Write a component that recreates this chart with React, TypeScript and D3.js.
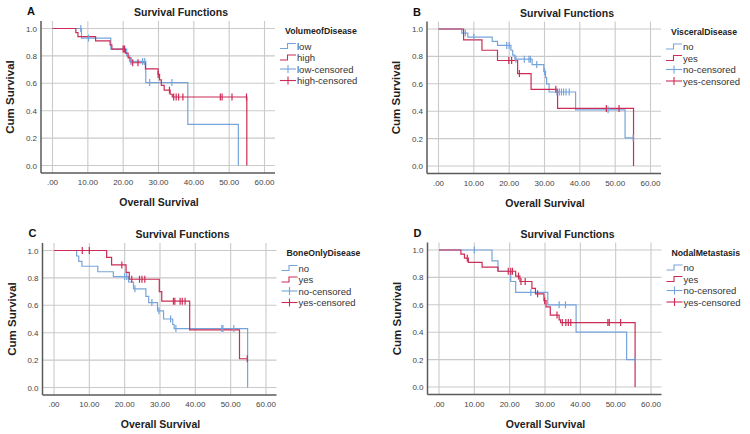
import React from "react";
import * as d3 from "d3";

// ---------- shared ticks ----------
const xTicks = [0, 10, 20, 30, 40, 50, 60];
const yTicks = [0, 0.2, 0.4, 0.6, 0.8, 1.0];

// ---------- Panel A : VolumeofDisease ----------
const aLowTimes = [8.2, 16.5, 21.0, 21.8, 26.4, 38.3, 52.6];
const aLowSurv = [0.93, 0.85, 0.8, 0.76, 0.605, 0.3, 0.0];
const aLowEnd = 52.6;
const aLowCens: [number, number][] = [[8.0, 1.0], [10.2, 0.93], [20.1, 0.85], [22.2, 0.76], [25.5, 0.76], [26.1, 0.76], [27.5, 0.605], [33.8, 0.605]];
const aHighTimes = [6.6, 7.2, 12.2, 16.3, 16.8, 20.6, 21.4, 22.2, 26.3, 29.9, 30.3, 30.8, 31.6, 33.3, 33.9, 55.0];
const aHighSurv = [0.97, 0.94, 0.91, 0.88, 0.85, 0.82, 0.785, 0.75, 0.705, 0.665, 0.625, 0.585, 0.55, 0.52, 0.5, 0.0];
const aHighEnd = 55.0;
const aHighCens: [number, number][] = [[20.0, 0.85], [20.4, 0.85], [22.7, 0.75], [24.2, 0.75], [29.9, 0.665], [33.1, 0.55], [34.3, 0.5], [35.0, 0.5], [35.7, 0.5], [36.9, 0.5], [47.5, 0.5], [48.0, 0.5], [50.8, 0.5], [54.9, 0.5]];

// ---------- Panel B : VisceralDisease ----------
const bNoTimes = [6.6, 8.3, 15.2, 16.7, 20.5, 21.0, 21.6, 26.5, 29.8, 30.3, 30.6, 31.3, 38.8, 52.8];
const bNoSurv = [0.97, 0.94, 0.91, 0.88, 0.845, 0.81, 0.78, 0.74, 0.69, 0.645, 0.6, 0.54, 0.41, 0.205];
const bNoEnd = 55.1;
const bNoCens: [number, number][] = [[7.6, 0.97], [10.0, 0.94], [19.3, 0.88], [20.0, 0.88], [21.9, 0.78], [24.3, 0.78], [25.6, 0.78], [26.0, 0.78], [27.8, 0.74], [30.0, 0.69], [33.5, 0.54], [34.2, 0.54], [34.8, 0.54], [35.4, 0.54], [36.1, 0.54], [37.0, 0.54], [48.0, 0.41], [55.1, 0.205]];
const bYesTimes = [7.1, 12.3, 16.7, 22.4, 26.2, 33.7, 55.2];
const bYesSurv = [0.92, 0.845, 0.77, 0.675, 0.56, 0.42, 0.0];
const bYesEnd = 55.2;
const bYesCens: [number, number][] = [[19.9, 0.77], [20.7, 0.77], [22.9, 0.675], [33.2, 0.56], [47.5, 0.42], [51.1, 0.42]];

// ---------- Panel C : BoneOnlyDisease ----------
const cNoTimes = [6.4, 7.0, 7.9, 12.4, 16.8, 21.1, 22.5, 26.0, 26.8, 29.3, 31.0, 33.6, 34.0, 54.8];
const cNoSurv = [0.96, 0.92, 0.885, 0.845, 0.81, 0.77, 0.72, 0.665, 0.62, 0.56, 0.5, 0.46, 0.43, 0.0];
const cNoEnd = 54.8;
const cNoCens: [number, number][] = [[20.0, 0.81], [20.6, 0.81], [22.9, 0.72], [27.7, 0.62], [29.7, 0.56], [33.0, 0.5], [34.5, 0.43], [47.5, 0.43], [47.8, 0.43], [50.9, 0.43]];
const cYesTimes = [14.9, 16.3, 20.4, 21.3, 29.8, 30.5, 38.4, 52.5];
const cYesSurv = [0.95, 0.895, 0.84, 0.79, 0.7, 0.63, 0.42, 0.21];
const cYesEnd = 54.7;
const cYesCens: [number, number][] = [[8.0, 1.0], [10.0, 1.0], [19.2, 0.895], [22.0, 0.79], [24.2, 0.79], [24.9, 0.79], [25.7, 0.79], [33.8, 0.63], [34.2, 0.63], [35.7, 0.63], [36.3, 0.63], [37.1, 0.63], [54.7, 0.21]];

// ---------- Panel D : NodalMetastasis ----------
const dNoTimes = [15.0, 16.7, 20.3, 21.7, 30.8, 38.8, 53.1];
const dNoSurv = [0.92, 0.845, 0.77, 0.69, 0.6, 0.4, 0.2];
const dNoEnd = 55.5;
const dNoCens: [number, number][] = [[10.0, 1.0], [26.0, 0.69], [34.0, 0.6], [35.8, 0.6], [55.5, 0.2]];
const dYesTimes = [6.2, 7.2, 8.3, 12.2, 16.7, 21.7, 22.9, 26.3, 27.3, 29.7, 30.3, 31.5, 34.0, 34.4, 55.5];
const dYesSurv = [0.97, 0.94, 0.91, 0.875, 0.845, 0.81, 0.77, 0.72, 0.68, 0.63, 0.585, 0.525, 0.49, 0.47, 0.0];
const dYesEnd = 55.5;
const dYesCens: [number, number][] = [[8.0, 0.94], [19.6, 0.845], [20.3, 0.845], [20.8, 0.845], [22.5, 0.81], [23.2, 0.77], [24.4, 0.77], [27.9, 0.68], [29.9, 0.63], [33.4, 0.525], [34.9, 0.47], [35.9, 0.47], [36.6, 0.47], [37.3, 0.47], [47.8, 0.47], [48.2, 0.47], [51.4, 0.47]];

const BLUE = "#76a5dc";
const RED = "#cc2c55";
const FONT = "'Liberation Sans', Arial, Helvetica, sans-serif";

type Curve = { times: number[]; surv: number[]; end: number; cens: [number, number][] };

function buildPoints(c: Curve): [number, number][] {
  const pts: [number, number][] = [[0, 1]];
  c.times.forEach((t, i) => pts.push([t, c.surv[i]]));
  const last = pts[pts.length - 1];
  if (c.end > last[0]) pts.push([c.end, last[1]]);
  return pts;
}

type PanelProps = {
  dx: number;
  dy: number;
  letter: string;
  legendTitle: string;
  names: [string, string];
  first: Curve;
  second: Curve;
};

function Panel({ dx, dy, letter, legendTitle, names, first, second }: PanelProps) {
  const x = d3.scaleLinear().domain([0, 60]).range([52.5, 264.5]);
  const y = d3.scaleLinear().domain([0, 1]).range([165.5, 28.5]);
  const line = d3
    .line<[number, number]>()
    .x((d) => x(d[0]))
    .y((d) => y(d[1]))
    .curve(d3.curveStepAfter);
  const axL = 41, axT = 21, axB = 173, axR = 275;
  const curves: [Curve, string][] = [[first, BLUE], [second, RED]];
  const legendItems = [
    { label: names[0], color: BLUE, kind: "line" },
    { label: names[1], color: RED, kind: "line" },
    { label: names[0] + "-censored", color: BLUE, kind: "cens" },
    { label: names[1] + "-censored", color: RED, kind: "cens" },
  ];
  return (
    <g transform={`translate(${dx},${dy})`}>
      {xTicks.map((t) => (
        <line key={"gx" + t} x1={x(t)} x2={x(t)} y1={axT} y2={axB} stroke="#cacaca" strokeWidth={1.1} />
      ))}
      {yTicks.map((t) => (
        <line key={"gy" + t} x1={axL} x2={axR} y1={y(t)} y2={y(t)} stroke="#cacaca" strokeWidth={1.1} />
      ))}
      <line x1={axL} x2={axL} y1={axT} y2={axB} stroke="#5a5a5a" strokeWidth={1.5} />
      <line x1={axL} x2={axR} y1={axB} y2={axB} stroke="#5a5a5a" strokeWidth={1.5} />
      {yTicks.map((t) => (
        <text key={"ty" + t} x={37} y={y(t) + 3} textAnchor="end" fontSize={8} fill="#444" fontFamily={FONT}>
          {t.toFixed(1)}
        </text>
      ))}
      {xTicks.map((t) => (
        <text key={"tx" + t} x={x(t)} y={185} textAnchor="middle" fontSize={8} fill="#444" fontFamily={FONT}>
          {t === 0 ? ".00" : t.toFixed(2)}
        </text>
      ))}
      {curves.map(([c, col], i) => (
        <path key={"c" + i} d={line(buildPoints(c)) || ""} fill="none" stroke={col} strokeWidth={1.2} />
      ))}
      {curves.map(([c, col], i) =>
        c.cens.map((p, j) => (
          <line key={"m" + i + "-" + j} x1={x(p[0])} x2={x(p[0])} y1={y(p[1]) - 3.5} y2={y(p[1]) + 3.5} stroke={col} strokeWidth={1.2} />
        ))
      )}
      <text x={27} y={15} fontSize={11} fontWeight="bold" fill="#111" fontFamily={FONT}>{letter}</text>
      <text x={181} y={16} textAnchor="middle" fontSize={10.5} fontWeight="bold" fill="#222" fontFamily={FONT}>Survival Functions</text>
      <text transform={`translate(14,97) rotate(-90)`} textAnchor="middle" fontSize={11.5} fontWeight="bold" fill="#222" fontFamily={FONT}>Cum Survival</text>
      <text x={159} y={206} textAnchor="middle" fontSize={10.5} fontWeight="bold" fill="#222" fontFamily={FONT}>Overall Survival</text>
      <text x={285} y={34} fontSize={8.7} fontWeight="bold" fill="#222" fontFamily={FONT}>{legendTitle}</text>
      {legendItems.map((it, i) => {
        const by = 49.5 + i * 11.5;
        const cy = by - 3.5;
        return (
          <g key={"lg" + i}>
            {it.kind === "line" ? (
              <path d={`M280,${cy + 2.5}H287.5V${cy - 2.5}H296`} fill="none" stroke={it.color} strokeWidth={1.1} />
            ) : (
              <g>
                <line x1={280} x2={296} y1={cy} y2={cy} stroke={it.color} strokeWidth={1.1} />
                <line x1={288} x2={288} y1={cy - 4} y2={cy + 4} stroke={it.color} strokeWidth={1.1} />
              </g>
            )}
            <text x={297} y={by} fontSize={9.5} fill="#333" fontFamily={FONT}>{it.label}</text>
          </g>
        );
      })}
    </g>
  );
}

export default function App() {
  return (
    <svg width={750} height={434} style={{ position: "absolute", left: 0, top: 0, background: "#fff" }}>
      <rect width={750} height={434} fill="#fff" />
      <Panel dx={0} dy={0} letter="A" legendTitle="VolumeofDisease" names={["low", "high"]}
        first={{ times: aLowTimes, surv: aLowSurv, end: aLowEnd, cens: aLowCens }}
        second={{ times: aHighTimes, surv: aHighSurv, end: aHighEnd, cens: aHighCens }} />
      <Panel dx={386} dy={0.5} letter="B" legendTitle="VisceralDisease" names={["no", "yes"]}
        first={{ times: bNoTimes, surv: bNoSurv, end: bNoEnd, cens: bNoCens }}
        second={{ times: bYesTimes, surv: bYesSurv, end: bYesEnd, cens: bYesCens }} />
      <Panel dx={1.5} dy={222} letter="C" legendTitle="BoneOnlyDisease" names={["no", "yes"]}
        first={{ times: cNoTimes, surv: cNoSurv, end: cNoEnd, cens: cNoCens }}
        second={{ times: cYesTimes, surv: cYesSurv, end: cYesEnd, cens: cYesCens }} />
      <Panel dx={386.5} dy={221.5} letter="D" legendTitle="NodalMetastasis" names={["no", "yes"]}
        first={{ times: dNoTimes, surv: dNoSurv, end: dNoEnd, cens: dNoCens }}
        second={{ times: dYesTimes, surv: dYesSurv, end: dYesEnd, cens: dYesCens }} />
    </svg>
  );
}
